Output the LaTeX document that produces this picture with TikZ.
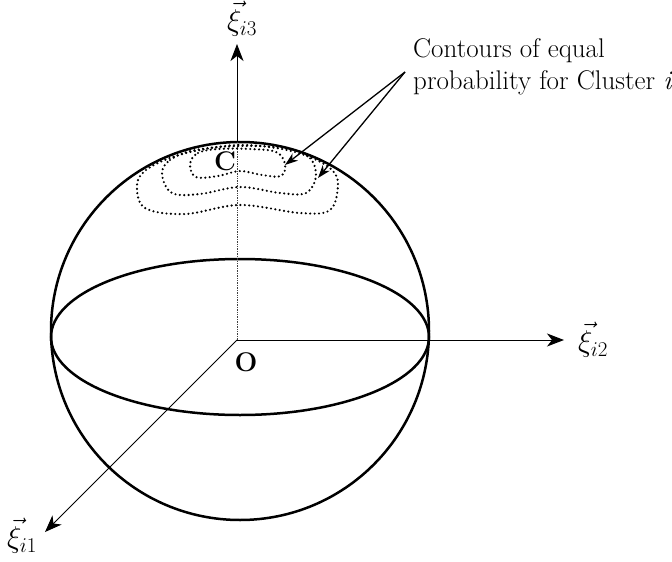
\RequirePackage{fix-cm}
\documentclass[tikz,border=0pt]{standalone}
\usepackage{fontspec}
\usetikzlibrary{arrows.meta}
\begin{document}
\begin{tikzpicture}[x=1pt,y=-1pt,
  ax/.style={line width=1pt},
  axtip/.style={-{Stealth[length=17pt,width=13pt,inset=5pt]}},
  ptip/.style={-{Stealth[length=13pt,width=9pt,inset=4pt]}},
  heavy/.style={line width=2.5pt},
  cont/.style={line width=2.4pt, dash pattern=on 0pt off 4.4pt, line cap=round},
  lbl/.style={font=\fontsize{30}{36}\selectfont, inner sep=0pt},
  txt/.style={font=\fontsize{27}{32}\selectfont, anchor=base west, inner sep=0pt},
  bold/.style={font=\fontsize{27}{32}\selectfont\bfseries, inner sep=0pt},
]
\useasboundingbox (0,0) rectangle (672,562);
\coordinate (O) at (237,340);
\coordinate (S) at (240,331);
\draw[heavy] (S) circle[radius=189pt];
\draw[heavy] (240,337) ellipse[x radius=189pt, y radius=78pt];
\coordinate (T) at (237,142);
\coordinate (Z) at (237,44);
\coordinate (Y) at (564,340);
\coordinate (X) at (45,532);
\draw[line width=0.7pt, densely dotted, black!75] (O) -- (T);
\draw[ax, axtip] (T) -- (Z);
\draw[ax, axtip] (O) -- (Y);
\draw[ax, axtip] (O) -- (X);
\node[lbl] (lz) at (242,19) {$\vec{\xi}_{i3}$};
\node[lbl] (ly) at (593,340) {$\vec{\xi}_{i2}$};
\node[lbl] (lx) at (22,536) {$\vec{\xi}_{i1}$};
\node[bold] (lo) at (246,362) {O};
\node[bold] (lc) at (225,161) {C};
% contours
\draw[cont] plot[smooth cycle, tension=0.6] coordinates {(190,164) (198,153) (218,149) (250,149) (276,152) (285,164) (281,176) (262,175) (240,171) (218,176) (196,177)};
\draw[cont] plot[smooth cycle, tension=0.6] coordinates {(162,174) (170,160) (195,150) (240,146) (285,148) (309,157) (316,176) (306,193) (280,193) (240,187) (200,194) (172,193)};
\draw[cont] plot[smooth cycle, tension=0.6] coordinates {(137,185) (146,170) (170,158) (200,150) (240,145) (282,149) (312,158) (332,170) (338,185) (330,210) (300,213) (240,205) (185,214) (145,208)};
% labels and pointers
\node[txt] (t1) at (413,57) {Contours of equal};
\node[txt] (t2) at (413,89) {probability for Cluster \textit{i}};
\coordinate (P) at (405,72);
\coordinate (A1) at (285,165);
\coordinate (A2) at (318,178);
\draw[line width=1.3pt, ptip] (P) -- (A1);
\draw[line width=1.3pt, ptip] (P) -- (A2);
\end{tikzpicture}
\end{document}
